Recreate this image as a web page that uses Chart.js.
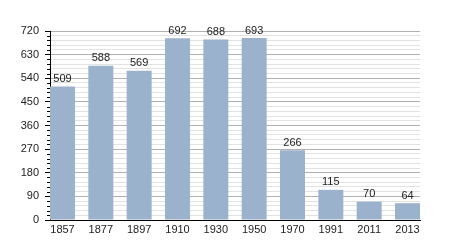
<!DOCTYPE html>
<html>
<head>
<meta charset="utf-8">
<script src="https://cdn.jsdelivr.net/npm/chart.js@4"></script>
<style>
  html, body { margin: 0; padding: 0; background: #fff; }
  #wrap { width: 450px; height: 250px; }
</style>
</head>
<body>
<div id="wrap"><canvas id="chart" width="450" height="250"></canvas></div>
<script>
// recensement - population par année
const years = ['1857', '1877', '1897', '1910', '1930', '1950', '1970', '1991', '2011', '2013'];
const population = [509, 588, 569, 692, 688, 693, 266, 115, 70, 64];
const yMax = 720;
const yMajorStep = 90;
const yMinorStep = 18;

const FONT = 'Liberation Sans, Arial, sans-serif';

// étiquettes au-dessus des barres + petites graduations
const barLabels = {
    id: 'barLabels',
    afterDatasetsDraw(chart) {
        const ctx = chart.ctx;
        const meta = chart.getDatasetMeta(0);
        ctx.save();
        ctx.font = '11px ' + FONT;
        ctx.fillStyle = '#222';
        ctx.textAlign = 'center';
        ctx.textBaseline = 'bottom';
        meta.data.forEach((bar, i) => {
            ctx.fillText(String(population[i]), bar.x, bar.y - 2);
        });
        ctx.restore();
    },
    afterDraw(chart) {
        const ys = chart.scales.y;
        const ctx = chart.ctx;
        const x0 = chart.chartArea.left;
        ctx.save();
        ctx.strokeStyle = '#000';
        ctx.lineWidth = 1;
        for (let v = 0; v <= yMax; v += yMinorStep) {
            if (v % yMajorStep === 0) continue;
            const py = Math.round(ys.getPixelForValue(v)) + 0.5;
            ctx.beginPath();
            ctx.moveTo(x0 - 3, py);
            ctx.lineTo(x0, py);
            ctx.stroke();
        }
        ctx.restore();
    }
};

new Chart(document.getElementById('chart').getContext('2d'), {
    type: 'bar',
    data: {
        datasets: [{
            data: years.map((y, i) => ({ x: i, y: population[i] })),
            backgroundColor: '#9bb2cd',
            borderWidth: 0,
            barPercentage: 0.652,
            categoryPercentage: 1
        }]
    },
    options: {
        responsive: false,
        animation: false,
        events: [],
        layout: { padding: { top: 31, right: 30, left: 0, bottom: 0 } },
        plugins: { legend: { display: false }, tooltip: { enabled: false } },
        scales: {
            x: {
                type: 'linear',
                offset: false,
                min: -0.326,
                max: 9.326,
                afterFit: s => { s.height = 30; },
                grid: { display: false, drawTicks: false },
                border: { display: true, color: '#000', width: 1 },
                ticks: {
                    stepSize: 1,
                    includeBounds: false,
                    autoSkip: false,
                    maxRotation: 0,
                    padding: 3,
                    color: '#222',
                    font: { family: FONT, size: 11 },
                    callback: v => Number.isInteger(v) ? (years[v] || '') : ''
                }
            },
            y: {
                min: 0,
                max: yMax,
                afterFit: s => { s.width = 50; },
                border: { display: true, color: '#000', width: 1 },
                grid: {
                    color: c => c.tick.value % yMajorStep === 0 ? '#b0b0b0' : '#e2e2e2',
                    tickColor: c => c.tick.value % yMajorStep === 0 ? '#000' : 'rgba(0,0,0,0)',
                    tickLength: 5,
                    lineWidth: 1
                },
                ticks: {
                    stepSize: yMinorStep,
                    autoSkip: false,
                    padding: 6,
                    color: '#222',
                    font: { family: FONT, size: 11 },
                    callback: v => v % yMajorStep === 0 ? String(v) : ''
                }
            }
        }
    },
    plugins: [barLabels]
});
</script>
</body>
</html>
